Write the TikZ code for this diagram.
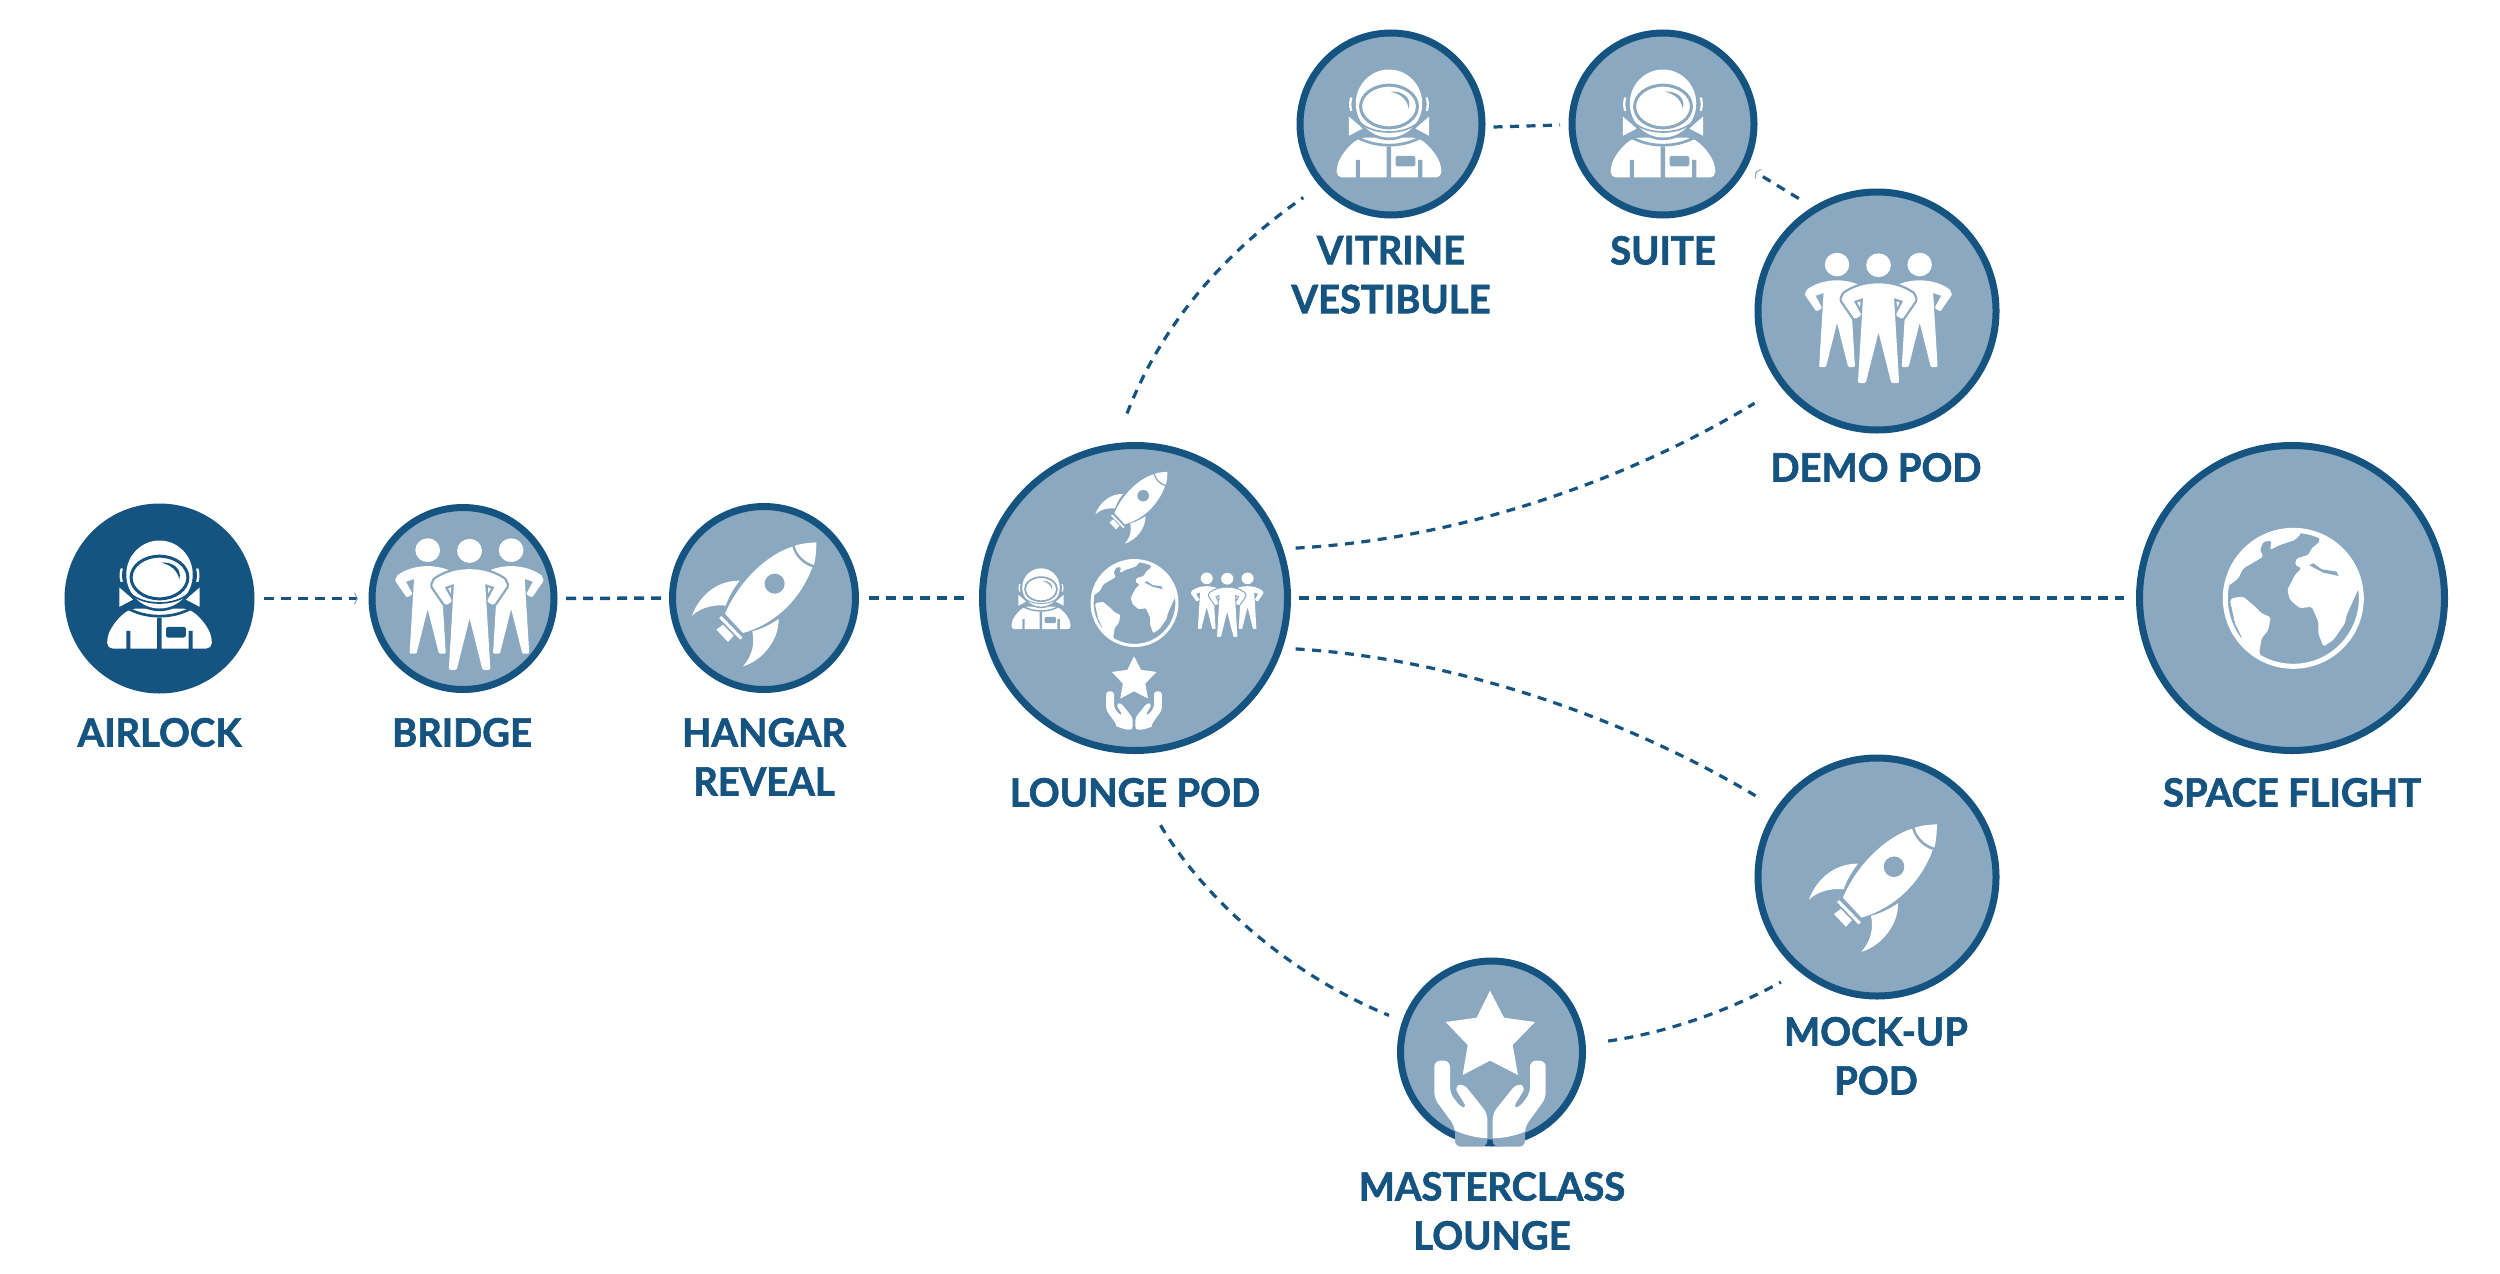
\documentclass[tikz,border=0pt]{standalone}
\usepackage{fontspec}
\usetikzlibrary{arrows.meta}
\newfontfamily\lblfont[FakeBold=1.6,FakeStretch=0.98]{Lato Bold}
\definecolor{deep}{RGB}{21,83,128}
\definecolor{pale}{RGB}{138,168,191}
\def\sk{1}
\tikzset{
  iconsize/.code={\def\sk{#1}\pgfkeysalso{/tikz/scale=#1}},
  ringnode/.style={circle,draw=deep,fill=pale,line width=7pt,inner sep=0pt,outer sep=0pt,minimum size=#1},
  solidnode/.style={circle,draw=none,fill=deep,inner sep=0pt,outer sep=0pt,minimum size=#1},
  lbl/.style={anchor=north,inner sep=0pt,outer sep=0pt,align=center,text=deep,font=\lblfont\fontsize{39}{49}\selectfont},
  conn/.style={draw=deep,line width=3.5pt,dash pattern=on 10pt off 7pt},
  curvedconn/.style={draw=deep,line width=3.2pt,dash pattern=on 9pt off 7.5pt},
  tinytip/.style={-{Straight Barb[length=3pt,width=11pt,color=pale,line width=1pt]}},
  personstroke/.style={line width=10pt*\sk,line join=round,line cap=round},
  pics/astro/.style={code={
    \begin{scope}[xscale=1.039,shift={(-346,-355)}]
      \fill[white,rounded corners=16pt*\sk] (195,505) -- (195,470) .. controls (215,425) and (240,400) .. (268,385) -- (424,385) .. controls (452,400) and (477,425) .. (497,470) -- (497,505) -- cycle;
      \fill[#1] (250,452) rectangle (262,510) (339,412) rectangle (352,510) (430,452) rectangle (442,510);
      \fill[#1,rounded corners=5pt*\sk] (365,440) rectangle (422,472);
      \fill[white] (230,322) -- (230,380) -- (270,358) -- cycle (462,322) -- (462,380) -- (422,358) -- cycle;
      \draw[white,line width=7pt*\sk] (237,265) .. controls (233,280) and (233,292) .. (237,305) (455,265) .. controls (459,280) and (459,292) .. (455,305);
      \draw[#1,line width=8pt*\sk] (245,378) .. controls (300,418) and (392,418) .. (447,378);
      \draw[#1,line width=16pt*\sk] (346,283) ellipse[x radius=96,y radius=102];
      \fill[white] (346,283) ellipse[x radius=96,y radius=102];
      \draw[#1,line width=9pt*\sk] (346,292) ellipse[x radius=82,y radius=64];
      \draw[#1,line width=5pt*\sk] (262,340) .. controls (300,378) and (392,378) .. (430,340);
      \fill[#1] (350,247) .. controls (385,245) and (412,265) .. (403,298) .. controls (398,270) and (380,255) .. (350,247) -- cycle;
    \end{scope}
  }},
  pics/rocket/.style={code={
    \begin{scope}[shift={(-313,-325)}]
      \fill[white] (398,171) .. controls (335,190) and (245,260) .. (196,372) -- (250,430) .. controls (340,405) and (420,335) .. (458,233) .. controls (430,225) and (405,200) .. (398,171) -- cycle;
      \fill[white] (405,168) .. controls (430,160) and (450,160) .. (470,158) .. controls (470,185) and (468,205) .. (463,226) .. controls (435,218) and (412,195) .. (405,168) -- cycle;
      \fill[#1] (345,282) circle[radius=30];
      \fill[white] (240,273) .. controls (170,272) and (118,320) .. (97,378) .. controls (125,352) and (165,344) .. (198,348) .. controls (208,320) and (222,296) .. (240,273) -- cycle;
      \fill[white] (357,388) .. controls (358,450) and (310,512) .. (250,530) .. controls (280,495) and (285,460) .. (278,425) .. controls (306,418) and (332,405) .. (357,388) -- cycle;
      \draw[white,line width=9pt*\sk] (182,382) -- (245,447);
      \fill[white] (170,420) -- (190,405) -- (222,438) -- (205,457) -- cycle;
    \end{scope}
  }},
  pics/people/.style={code={
    \begin{scope}[xscale=1.039,shift={(-1224,-355)}]
      \foreach \hx/\hy in {1122/210,1363/210}{
        \begin{scope}[shift={(\hx,\hy)},scale=0.87]
          \fill[white] (0,0) circle[radius=41];
          \filldraw[white,line width=8.7pt*\sk,line join=round] \personpath;
        \end{scope}
      }
      \begin{scope}[shift={(1243,212)}]
        \draw[#1,line width=24pt*\sk,line join=round] \personpath;
        \fill[#1] \personpath;
        \fill[white] (0,0) circle[radius=36];
        \filldraw[white,personstroke] \personpath;
      \end{scope}
    \end{scope}
  }},
  pics/globe/.style={code={
    \begin{scope}[shift={(-340,-295)}]
      \draw[white,line width=15pt*\sk] (340,295) circle[radius=204];
      \begin{scope}
        \clip (340,295) circle[radius=205];
        \fill[white,rounded corners=5pt*\sk] (120,260) -- (150,255) -- (175,235) -- (190,205) -- (225,185) -- (250,170) -- (240,150) -- (250,125) -- (275,122) -- (270,150) -- (300,135) -- (345,120) -- (362,103) -- (362,60) -- (120,60) -- cycle;
        \fill[white,rounded corners=5pt*\sk] (420,125) -- (395,145) -- (385,165) -- (350,175) -- (345,195) -- (365,205) -- (345,225) -- (322,270) -- (330,300) -- (360,325) -- (395,320) -- (415,365) -- (415,400) -- (430,440) -- (460,420) -- (495,370) -- (500,345) -- (520,300) -- (535,268) -- (570,268) -- (570,60) -- (400,60) -- cycle;
        \fill[#1] (388,196) -- (400,190) -- (425,208) -- (470,215) -- (476,228) -- (430,218) -- cycle;
        \fill[white,rounded corners=5pt*\sk] (162,293) -- (190,290) -- (225,320) -- (245,340) -- (272,352) -- (265,390) -- (245,415) -- (238,455) -- (255,520) -- (160,450) -- (187,415) -- (165,370) -- (150,300) -- cycle;
      \end{scope}
    \end{scope}
  }},
  pics/starhands/.style n args={2}{code={
    \begin{scope}[shift={(-330,-306)}]
      \fill[white] (330,122) -- (372,203) -- (465,216) -- (398,285) -- (414,375) -- (330,332) -- (248,375) -- (263,285) -- (197,216) -- (290,203) -- cycle;
      \fill[#1] \handspath{#2};
      \begin{scope}
        \clip (334,303) circle[radius=262];
        \fill[white] \handspath{#2};
      \end{scope}
    \end{scope}
  }}
}
\def\personpath{(0,60) .. controls (35,60) and (70,70) .. (97,90) -- (103,104) -- (68,157) -- (56,150) -- (79,106) -- (40,92) -- (55,352) -- (41,352) -- (3,195) -- (-3,195) -- (-41,352) -- (-55,352) -- (-40,92) -- (-79,106) -- (-56,150) -- (-68,157) -- (-103,104) -- (-97,90) .. controls (-70,70) and (-35,60) .. (0,60) -- cycle}
\def\handspath#1{[rounded corners=18pt*\sk] (163,332) -- (163,445) -- (225,530) -- (225,#1) -- (322,#1) -- (322,490) -- (250,400) -- (222,410) -- (262,475) -- (245,475) -- (210,430) -- (210,332) -- cycle (497,332) -- (497,445) -- (435,530) -- (435,#1) -- (338,#1) -- (338,490) -- (410,400) -- (438,410) -- (398,475) -- (415,475) -- (450,430) -- (450,332) -- cycle}
\begin{document}
\begin{tikzpicture}[x=1pt,y=-1pt]
\useasboundingbox (0,0) rectangle (2500,1274);
% nodes
\node[solidnode=190pt] (airlock) at (159.5,598.5) {};
\node[ringnode=182pt] (bridge) at (463,598.5) {};
\node[ringnode=183pt] (hangar) at (764,598) {};
\node[ringnode=305pt] (lounge) at (1135,598) {};
\node[ringnode=305pt] (space) at (2292,598) {};
\node[ringnode=182pt] (vitrine) at (1391,124) {};
\node[ringnode=182pt] (suite) at (1663,124) {};
\node[ringnode=238pt] (demo) at (1877,311) {};
\node[ringnode=238pt] (mockup) at (1877,877) {};
\node[ringnode=182pt] (masterclass) at (1491.5,1052) {};
% icons
\pic[iconsize=0.3333] at (airlock) {astro=deep};
\pic[iconsize=0.3333] at (1389,127.5) {astro=pale};
\pic[iconsize=0.3333] at (1663,127.5) {astro=pale};
\pic[iconsize=0.188] at (1041,601) {astro=pale};
\pic[iconsize=0.3333] at (bridge) {people=pale};
\pic[iconsize=0.33] at (1872,312.4) {people=pale};
\pic[iconsize=0.163] at (1224,602) {people=pale};
\pic[iconsize=0.3333] at (hangar) {rocket=pale};
\pic[iconsize=0.343] at (1883,881.5) {rocket=pale};
\pic[iconsize=0.193] at (1137,504) {rocket=pale};
\pic[iconsize=0.3333] at (2293.3,598.3) {globe=pale};
\pic[iconsize=0.208] at (1134.5,603) {globe=pale};
\pic[iconsize=0.3333] at (1490,1052) {starhands={pale}{590}};
\pic[iconsize=0.1667] at (1134,687) {starhands={pale}{562}};
% connectors
\draw[conn,tinytip,shorten <=9pt,shorten >=14pt] (airlock) -- (bridge);
\draw[conn,shorten <=12pt,shorten >=10.5pt] (bridge) -- (hangar);
\draw[conn,shorten <=13.5pt,shorten >=14.5pt] (hangar) -- (lounge);
\draw[conn,shorten <=11.5pt,shorten >=15.5pt] (lounge) -- (space);
\draw[curvedconn] ([shift={(-8,-32)}]lounge.north) .. controls (1165,315) and (1235,245) .. ([shift={(-18,15)}]vitrine.220);
\draw[curvedconn] ([shift={(11.5,3)}]vitrine.east) -- ([shift={(-12,1)}]suite.west);
\draw[curvedconn,tinytip] ([shift={(-10,-15)}]demo.125) -- ([shift={(12,5.4)}]suite.-28);
\draw[curvedconn] ([shift={(15.6,-2.8)}]lounge.18) .. controls (1450,540) and (1620,485) .. ([shift={(-25,24)}]demo.215);
\draw[curvedconn] ([shift={(15.6,3.8)}]lounge.-18) .. controls (1450,658) and (1620,715) .. ([shift={(-24,-13)}]mockup.145);
\draw[curvedconn] ([shift={(-1,77)}]lounge.-80) .. controls (1205,900) and (1290,975) .. ([shift={(-17,-5.5)}]masterclass.160);
\draw[curvedconn] ([shift={(26,-3)}]masterclass.5) .. controls (1670,1032) and (1730,1010) .. ([shift={(-12,21)}]mockup.225);
% labels
\node[lbl] (tairlock) at (159.5,718) {AIRLOCK};
\node[lbl] (tbridge) at (462,718) {BRIDGE};
\node[lbl] (thangar) at (764,718) {HANGAR\\REVEAL};
\node[lbl] (tlounge) at (1135,778) {LOUNGE POD};
\node[lbl] (tspace) at (2292,778) {SPACE FLIGHT};
\node[lbl] (tvitrine) at (1391,236) {VITRINE\\VESTIBULE};
\node[lbl] (tsuite) at (1663,236) {SUITE};
\node[lbl] (tdemo) at (1876,453) {DEMO POD};
\node[lbl] (tmockup) at (1876,1017) {MOCK-UP\\POD};
\node[lbl] (tmaster) at (1492,1172) {MASTERCLASS\\LOUNGE};
\end{tikzpicture}
\end{document}
